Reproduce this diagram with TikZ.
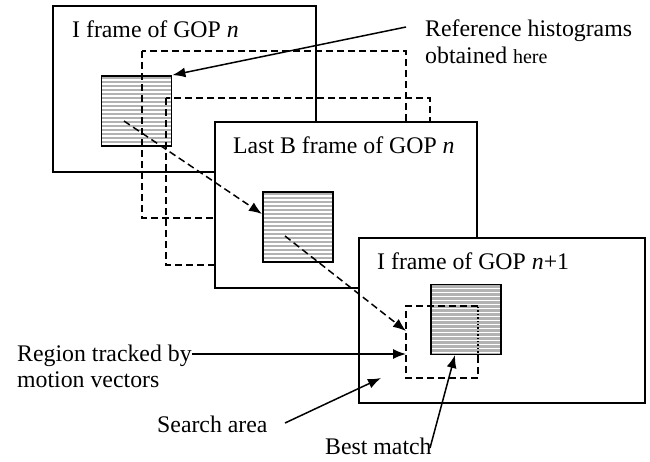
\documentclass[tikz,border=0pt]{standalone}
\usepackage{fontspec}
\setmainfont{Liberation Serif}
\usetikzlibrary{arrows.meta}
\definecolor{histgray}{RGB}{178,178,178}
\tikzset{
  frame/.style={draw, fill=white, line width=1.8pt, inner sep=0pt},
  hist/.style={draw, fill=histgray, line width=1.8pt, inner sep=0pt,
    minimum width=70pt, minimum height=70pt,
    path picture={\foreach \k in {1,...,18}
      \draw[white, line width=1.3pt] ([yshift=-\k*4pt]path picture bounding box.north west)
        -- ([yshift=-\k*4pt]path picture bounding box.north east) ;}},
  dashbox/.style={line width=1.6pt, dash pattern=on 7pt off 4pt},
  lbl/.style={anchor=base west, inner sep=0pt, font=\fontsize{23.8}{30}\selectfont},
  pointer/.style={line width=1.5pt, -{Latex[length=13pt,width=10pt]}},
  dashpointer/.style={pointer, dash pattern=on 7pt off 4pt},
}

\begin{document}
\begin{tikzpicture}[x=1pt, y=-1pt]
\useasboundingbox (0,0) rectangle (650,461) ;
% I frame of GOP n
\node[frame, minimum width=263pt, minimum height=166pt] (f1) at (184.5,89) {} ;
\node[lbl] (f1lbl) at (72,37) {I frame of GOP \textit{n}} ;
\node[hist] (h1) at (136.5,111) {} ;
% search windows behind the B frame
\draw[dashbox] (142,51) rectangle (406,218) ;
\draw[dashbox] (166,98) rectangle (430,265) ;
% last B frame of GOP n
\node[frame, minimum width=262pt, minimum height=166pt] (f2) at (346,205) {} ;
\node[lbl] (f2lbl) at (233,153) {Last B frame of GOP \textit{n}} ;
\node[hist] (h2) at (298,227) {} ;
% I frame of GOP n+1
\node[frame, minimum width=286pt, minimum height=165pt] (f3) at (502,320.5) {} ;
\node[lbl] (f3lbl) at (377,269) {I frame of GOP \textit{n}+1} ;
\node[hist] (h3) at (466,319.5) {} ;
\draw[dashbox] (478,306) -- (406,306) -- (406,378) -- (478,378) -- (478,356) ;
\draw[line width=1.4pt, dotted] (478,356) -- (478,306) ;
% labels
\node[lbl] (reflbl) at (425,36) {Reference histograms} ;
\node[lbl] (reflbl2) at (425,63) {obtained {\fontsize{20}{30}\selectfont here}} ;
\node[lbl] (trklbl) at (17,361) {Region tracked by} ;
\node[lbl] (trklbl2) at (17,387) {motion vectors} ;
\node[lbl] (srchlbl) at (157,432) {Search area} ;
\node[lbl] (bestlbl) at (325,454) {Best match} ;
% arrow ends
\coordinate (refstart) at (406,27) ;
\coordinate (mv1) at (124,121) ;
\coordinate (mv1end) at (262,214) ;
\coordinate (mv2) at (285,236) ;
\coordinate (mv2end) at (406,331) ;
\coordinate (trkstart) at (192,354) ;
\coordinate (trkend) at (406,354) ;
\coordinate (srchstart) at (285,423) ;
\coordinate (srchend) at (381,378) ;
\coordinate (beststart) at (430,448) ;
\coordinate (bestend) at (455,355) ;
% arrows
\draw[pointer] (refstart) -- (h1.north east) ;
\draw[dashpointer] (mv1) -- (mv1end) ;
\draw[dashpointer] (mv2) -- (mv2end) ;
\draw[pointer] (trkstart) -- (trkend) ;
\draw[pointer] (srchstart) -- (srchend) ;
\draw[pointer] (beststart) -- (bestend) ;
\end{tikzpicture}
\end{document}
